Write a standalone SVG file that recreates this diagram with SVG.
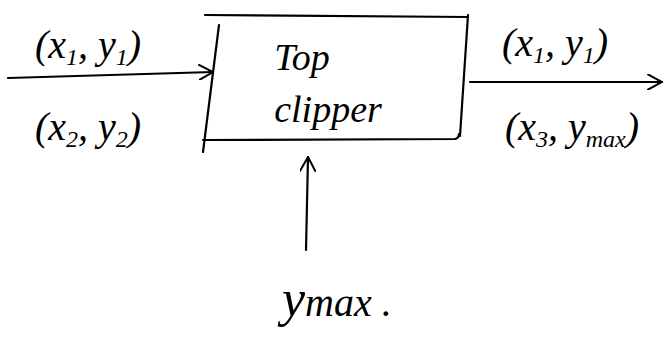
<svg xmlns="http://www.w3.org/2000/svg" width="666" height="351" viewBox="0 0 666 351">
<style>
.ln{fill:none;stroke:#000;stroke-width:2.2;stroke-linecap:round;stroke-linejoin:round}
.t{font-family:"Liberation Serif","DejaVu Serif",serif;font-style:italic;fill:#000}
.lab{font-size:40px}
.box{font-size:38px}
.sub{font-size:24px}
</style>
<defs>
<marker id="ah" viewBox="0 0 12 12" refX="11" refY="6" markerWidth="16" markerHeight="16" markerUnits="userSpaceOnUse" orient="auto">
<path d="M0,0 L11,6 L0,12" fill="none" stroke="#000" stroke-width="1.5"/>
</marker>
</defs>
<rect width="666" height="351" fill="#fff"/>
<g id="node-top-clipper">
<path class="ln" d="M205,15 L468,17 M219,25 L203,152 M203,140 L455,139 Q459,138 459,134 M468,15 L460,136"/>
<text class="t box" x="302" y="70" text-anchor="middle">Top</text>
<text class="t box" x="328" y="122" text-anchor="middle">clipper</text>
</g>
<g id="node-input-labels">
<text class="t lab" x="88" y="58" text-anchor="middle">(x<tspan class="sub" dy="7">1</tspan><tspan dy="-7">, y</tspan><tspan class="sub" dy="7">1</tspan><tspan dy="-7">)</tspan></text>
<text class="t lab" x="88" y="140" text-anchor="middle">(x<tspan class="sub" dy="7">2</tspan><tspan dy="-7">, y</tspan><tspan class="sub" dy="7">2</tspan><tspan dy="-7">)</tspan></text>
</g>
<g id="node-output-labels">
<text class="t lab" x="555" y="56" text-anchor="middle">(x<tspan class="sub" dy="7">1</tspan><tspan dy="-7">, y</tspan><tspan class="sub" dy="7">1</tspan><tspan dy="-7">)</tspan></text>
<text class="t lab" x="572" y="140" text-anchor="middle">(x<tspan class="sub" dy="7">3</tspan><tspan dy="-7">, y</tspan><tspan class="sub" dy="7">max</tspan><tspan dy="-7">)</tspan></text>
</g>
<g id="node-ymax">
<text class="t" font-size="52" x="282" y="316">y<tspan font-size="40">max .</tspan></text>
</g>
<g id="connectors">
<path class="ln" d="M8,78 L213,72" marker-end="url(#ah)"/>
<path class="ln" d="M470,82 L662,82" marker-end="url(#ah)"/>
<path class="ln" d="M306,250 L308,157" marker-end="url(#ah)"/>
</g>
</svg>
